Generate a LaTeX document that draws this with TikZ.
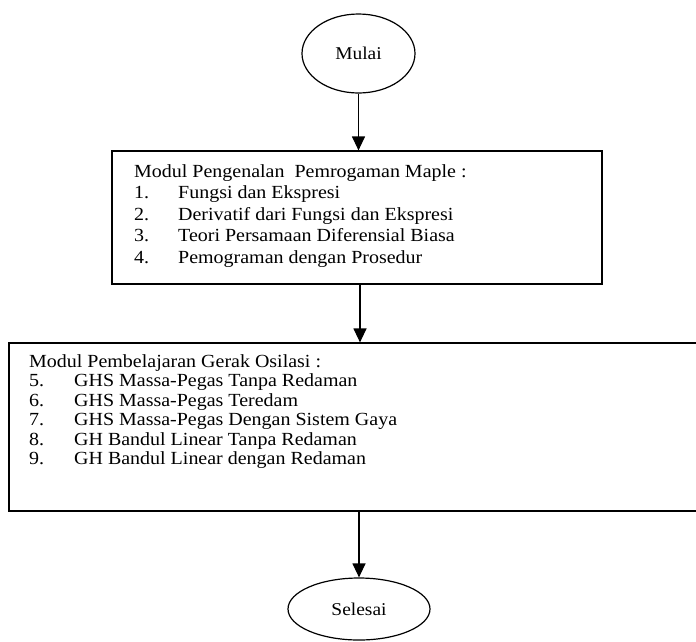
\documentclass[tikz,border=0pt]{standalone}
\usepackage{fontspec}
\setmainfont{Liberation Serif}[FakeStretch=1.08]
\usetikzlibrary{shapes.geometric,arrows.meta}
\begin{document}
\begin{tikzpicture}[x=1pt,y=-1pt,
  term/.style={draw,ellipse,line width=1.2pt,inner sep=0pt,font=\fontsize{18}{18}\selectfont},
  box/.style={draw,rectangle,line width=1.2pt,inner sep=0pt},
  txt/.style={anchor=base west,inner sep=0pt,font=\fontsize{18.5}{18}\selectfont},
  flow/.style={-{Triangle[width=13pt,length=14pt]},line width=1.2pt}]
\useasboundingbox (0,0) rectangle (696,641);
\clip (0,0) rectangle (696,641);
% terminals and boxes
\node[term,minimum width=113pt,minimum height=79pt] (start) at (358.5,53.5) {Mulai};
\node[box,minimum width=490pt,minimum height=133pt] (m1) at (357,217.5) {};
\node[box,minimum width=702pt,minimum height=168pt] (m2) at (360,427) {};
\node[term,minimum width=142pt,minimum height=62pt] (stop) at (359,609) {Selesai};
% box 1 text
\node[txt] (t1h) at (134,177) {Modul Pengenalan\ \ Pemrogaman Maple :};
\node[txt] (t1a) at (134,198.5) {1.};
\node[txt] (t1ai) at (178,198.5) {Fungsi dan Ekspresi};
\node[txt] (t1b) at (134,220) {2.};
\node[txt] (t1bi) at (178,220) {Derivatif dari Fungsi dan Ekspresi};
\node[txt] (t1c) at (134,241.5) {3.};
\node[txt] (t1ci) at (178,241.5) {Teori Persamaan Diferensial Biasa};
\node[txt] (t1d) at (134,263) {4.};
\node[txt] (t1di) at (178,263) {Pemograman dengan Prosedur};
% box 2 text
\node[txt] (t2h) at (29,367) {Modul Pembelajaran Gerak Osilasi :};
\node[txt] (t2a) at (29,386.5) {5.};
\node[txt] (t2ai) at (74,386.5) {GHS Massa-Pegas Tanpa Redaman};
\node[txt] (t2b) at (29,406) {6.};
\node[txt] (t2bi) at (74,406) {GHS Massa-Pegas Teredam};
\node[txt] (t2c) at (29,425.5) {7.};
\node[txt] (t2ci) at (74,425.5) {GHS Massa-Pegas Dengan Sistem Gaya};
\node[txt] (t2d) at (29,445) {8.};
\node[txt] (t2di) at (74,445) {GH Bandul Linear Tanpa Redaman};
\node[txt] (t2e) at (29,464.5) {9.};
\node[txt] (t2ei) at (74,464.5) {GH Bandul Linear dengan Redaman};
% connectors
\draw[flow] (start.south) -- (start.south |- m1.north);
\draw[flow] (m2.north |- m1.south) -- (m2.north);
\draw[flow] (stop.north |- m2.south) -- (stop.north);
\end{tikzpicture}
\end{document}
